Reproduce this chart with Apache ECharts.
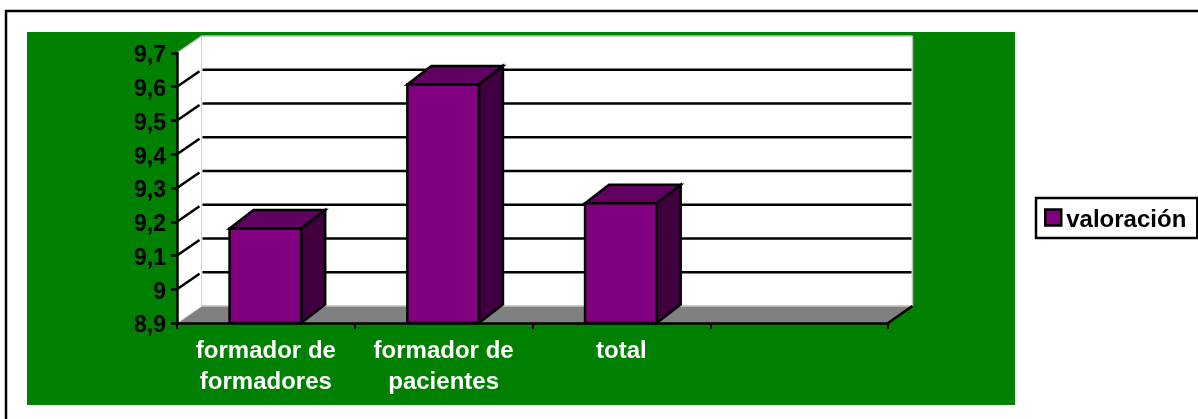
<!DOCTYPE html>
<html lang="es">
	<head>
		<meta charset="UTF-8" />
		<title>valoración</title>
		<script src="https://cdn.jsdelivr.net/npm/echarts"></script>
		<style>
			html, body { margin: 0; background: #fff; }
		</style>
	</head>
	<body>
		<div id="myChart" style="width: 1198px; height: 419px"></div>

		<script>
			const categories = ["formador de\nformadores", "formador de\npacientes", "total", ""];
			const seriesName = "valoración";
			const values = [9.18, 9.607, 9.255];
			const gridValues = [9, 9.1, 9.2, 9.3, 9.4, 9.5, 9.6];

			const DX = 24.5;
			const DY = -17;
			const BAR_DX = 24;
			const BAR_DY = -18.5;
			const font = "Liberation Sans, Arial, sans-serif";

			const myChart = echarts.init(document.getElementById("myChart"));

			// walls and floor behind the bars
			function renderWalls(params, api) {
				const c = params.coordSys;
				const x0 = c.x, x1 = c.x + c.width, y0 = c.y, y1 = c.y + c.height;
				const edge = { stroke: "#c0c0c0", lineWidth: 1.5 };
				return {
					type: "group",
					children: [
						{ type: "rect", shape: { x: x0 + DX, y: y0 + DY, width: c.width, height: c.height }, style: { fill: "#fff" } },
						{ type: "polygon", shape: { points: [[x0, y1], [x0 + DX, y1 + DY], [x0 + DX, y0 + DY], [x0, y0]] }, style: { fill: "#fff" } },
						{ type: "polygon", shape: { points: [[x0, y1], [x1, y1], [x1 + DX, y1 + DY], [x0 + DX, y1 + DY]] }, style: { fill: "#808080" } },
						{ type: "line", shape: { x1: x0 + DX, y1: y0 + DY, x2: x1 + DX, y2: y0 + DY }, style: edge },
						{ type: "line", shape: { x1: x1 + DX, y1: y0 + DY, x2: x1 + DX, y2: y1 + DY }, style: edge },
						{ type: "line", shape: { x1: x0, y1: y0, x2: x0 + DX, y2: y0 + DY }, style: edge },
						{ type: "line", shape: { x1: x0 + DX, y1: y1 + DY, x2: x1 + DX, y2: y1 + DY }, style: edge },
						{ type: "line", shape: { x1: x0, y1: y1, x2: x0 + DX, y2: y1 + DY }, style: { stroke: "#e8e8e8", lineWidth: 1.5 } },
						{ type: "line", shape: { x1: x1, y1: y1, x2: x1 + DX, y2: y1 + DY }, style: { stroke: "#000", lineWidth: 2.5 } },
					],
				};
			}

			function renderGridLine(params, api) {
				const c = params.coordSys;
				const y = api.coord([0, api.value(0)])[1];
				const line = { stroke: "#000", lineWidth: 2.5 };
				return {
					type: "group",
					children: [
						{ type: "line", shape: { x1: c.x, y1: y, x2: c.x + DX - 2, y2: y + DY + 1.5 }, style: line },
						{ type: "line", shape: { x1: c.x + DX + 1, y1: y + DY, x2: c.x + c.width + DX - 1, y2: y + DY }, style: line },
					],
				};
			}

			function renderBar(params, api) {
				const top = api.coord([api.value(0), api.value(1)]);
				const bottom = api.coord([api.value(0), 8.9]);
				const w = api.size([1, 0])[0] * 0.403;
				const l = top[0] - w / 2 - 0.5, r = l + w, t = top[1], b = bottom[1];
				const outline = { stroke: "#000", lineWidth: 2.5, lineJoin: "miter" };
				return {
					type: "group",
					children: [
						{ type: "polygon", shape: { points: [[r, t], [r + BAR_DX, t + BAR_DY], [r + BAR_DX, b + BAR_DY], [r, b]] }, style: { fill: "#400040", ...outline } },
						{ type: "polygon", shape: { points: [[l, t], [l + BAR_DX, t + BAR_DY], [r + BAR_DX, t + BAR_DY], [r, t]] }, style: { fill: "#600060", ...outline } },
						{ type: "rect", shape: { x: l, y: t, width: w, height: b - t }, style: { fill: "#800080", ...outline } },
					],
				};
			}

			const option = {
				animation: false,
				backgroundColor: "#fff",
				textStyle: { fontFamily: font },
				graphic: [
					{ type: "rect", z: -2, shape: { x: 6, y: 11, width: 1300, height: 600 }, style: { fill: "#fff", stroke: "#000", lineWidth: 2.5 } },
					{ type: "rect", z: -1, shape: { x: 27, y: 32, width: 988, height: 373 }, style: { fill: "#008000" } },
				],
				grid: { left: 177, top: 53, width: 711, height: 270 },
				legend: {
					left: 1036,
					top: 198,
					padding: [10, 11, 6, 8],
					orient: "vertical",
					backgroundColor: "#fff",
					borderColor: "#000",
					borderWidth: 2.5,
					itemWidth: 16,
					itemHeight: 16,
					icon: "rect",
					data: [{ name: seriesName, itemStyle: { color: "#800080", borderColor: "#000", borderWidth: 2.5 } }],
					formatter: (name) => "{a|" + name + "}",
					textStyle: {
						color: "#000",
						fontFamily: font,
						fontWeight: "bold",
						fontSize: 24,
						rich: { a: { color: "#000", fontFamily: font, fontWeight: "bold", fontSize: 24, padding: [5, 0, 0, 0] } },
					},
				},
				xAxis: {
					type: "category",
					data: categories,
					z: 10,
					axisLine: { lineStyle: { color: "#000", width: 2.5 } },
					axisTick: { show: true, length: 6, interval: 0, lineStyle: { color: "#000", width: 2 } },
					axisLabel: { interval: 0, color: "#fff", fontFamily: font, fontWeight: "bold", fontSize: 24, lineHeight: 31, margin: 13 },
					splitLine: { show: false },
				},
				yAxis: {
					type: "value",
					min: 8.9,
					max: 9.7,
					interval: 0.1,
					z: 10,
					axisLine: { show: true, lineStyle: { color: "#000", width: 2.5 } },
					axisTick: { show: true, length: 6, lineStyle: { color: "#000", width: 2.5 } },
					axisLabel: {
						color: "#000",
						margin: 11,
						formatter: (v) => "{a|" + String(v).replace(".", ",") + "}",
						rich: { a: { color: "#000", fontFamily: font, fontWeight: "bold", fontSize: 23, padding: [6, 0, 0, 0] } },
					},
					splitLine: { show: false },
				},
				series: [
					{ type: "custom", name: "paredes", silent: true, z: 1, renderItem: renderWalls, data: [[0, 8.9]], encode: { x: 0, y: 1 } },
					{ type: "custom", name: "rejilla", silent: true, z: 2, renderItem: renderGridLine, data: gridValues.map((v) => [v]), encode: { y: 0 } },
					{ type: "custom", name: seriesName, z: 3, renderItem: renderBar, data: values.map((v, i) => [i, v]), encode: { x: 0, y: 1 } },
				],
			};

			myChart.setOption(option);

			window.addEventListener("resize", function () {
				myChart.resize();
			});
		</script>
	</body>
</html>
